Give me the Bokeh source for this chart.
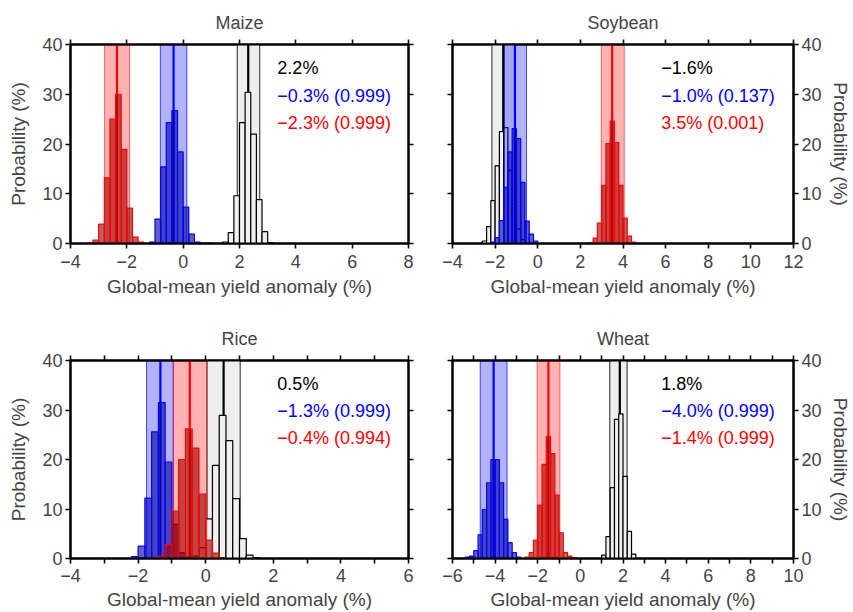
import numpy as np
from bokeh.plotting import figure
from bokeh.models import Range1d, LinearAxis, FixedTicker, Label
from bokeh.layouts import gridplot
from bokeh.embed import file_html
from bokeh.resources import INLINE

FONT = "Liberation Sans"
MINUS = "\u2212"
bin_width = 0.2

# ---------------- data ----------------
crop_names = ["Maize", "Soybean", "Rice", "Wheat"]
maize_xlim = [-4, 8]
soy_xlim = [-4, 12]
rice_xlim = [-4, 6]
wheat_xlim = [-6, 10]

# histogram: lower edge of first 0.2-wide bin, probability (%) per bin
maize_grey_start = 1.4
maize_grey_prob = [0.3, 2.2, 9.6, 24.3, 30.4, 22.0, 8.8, 2.4, 0.2]
maize_blue_start = -1.2
maize_blue_prob = [0.3, 4.9, 15.4, 24.3, 26.7, 18.4, 7.3, 1.9, 0.3, 0.05, 0.1]
maize_red_start = -3.4
maize_red_prob = [0.2, 0.7, 3.9, 13.2, 25.0, 30.0, 18.9, 7.1, 1.3, 0.3]

soy_grey_start = -2.6
soy_grey_prob = [0.5, 3.4, 8.6, 15.6, 22.5, 23.3, 14.7, 8.0, 2.9, 0.8]
soy_blue_start = -2.2
soy_blue_prob = [0.3, 1.2, 4.6, 11.3, 18.4, 23.1, 21.1, 12.3, 4.5, 1.9, 0.5]
soy_red_start = 2.4
soy_red_prob = [0.2, 1.1, 4.1, 11.7, 20.1, 24.6, 20.3, 11.7, 5.1, 1.5, 0.3]

rice_grey_start = -0.4
rice_grey_prob = [0.5, 2.2, 8.0, 18.8, 28.9, 23.8, 12.1, 4.0, 0.7, 0.2]
rice_blue_start = -2.2
rice_blue_prob = [0.4, 2.5, 12.2, 25.6, 31.5, 19.5, 6.9, 1.2, 0.3]
rice_red_start = -1.6
rice_red_prob = [0.1, 0.5, 2.8, 9.6, 20.0, 26.2, 22.3, 13.0, 3.7, 1.1, 0.2]

wheat_grey_start = 1.0
wheat_grey_prob = [0.7, 4.4, 14.3, 28.1, 29.2, 16.6, 5.5, 0.9]
wheat_blue_start = -5.4
wheat_blue_prob = [0.3, 0.5, 1.6, 4.8, 9.9, 15.3, 20.0, 20.0, 15.3, 7.9, 3.2, 1.2, 0.3]
wheat_red_start = -2.6
wheat_red_prob = [0.3, 1.2, 3.7, 10.8, 19.0, 24.7, 21.2, 12.8, 5.2, 1.2, 0.5, 0.2]

# shaded ranges (lower, upper) and mean lines
maize_grey_band = [1.92, 2.72]; maize_grey_mean = 2.31
maize_blue_band = [-0.81, 0.13]; maize_blue_mean = -0.34
maize_red_band = [-2.79, -1.90]; maize_red_mean = -2.35

soy_grey_band = [-2.15, -1.09]; soy_grey_mean = -1.62
soy_blue_band = [-1.56, -0.53]; soy_blue_mean = -1.07
soy_red_band = [2.98, 4.06]; soy_red_mean = 3.49

rice_grey_band = [0.04, 1.02]; rice_grey_mean = 0.53
rice_blue_band = [-1.75, -0.96]; rice_blue_mean = -1.34
rice_red_band = [-0.96, 0.03]; rice_red_mean = -0.47

wheat_grey_band = [1.38, 2.19]; wheat_grey_mean = 1.85
wheat_blue_band = [-4.70, -3.44]; wheat_blue_mean = -4.07
wheat_red_band = [-2.03, -0.96]; wheat_red_mean = -1.50

maize_text = ["2.2%", MINUS + "0.3% (0.999)", MINUS + "2.3% (0.999)"]
soy_text = [MINUS + "1.6%", MINUS + "1.0% (0.137)", "3.5% (0.001)"]
rice_text = ["0.5%", MINUS + "1.3% (0.999)", MINUS + "0.4% (0.994)"]
wheat_text = ["1.8%", MINUS + "4.0% (0.999)", MINUS + "1.4% (0.999)"]

y_ticks = [0, 10, 20, 30, 40]
x_label = "Global-mean yield anomaly (%)"
y_label = "Probability (%)"

# ---------------- styles ----------------
STYLES = {
    "grey": dict(band_fill="#eeeeee", band_alpha=1.0, band_line="#000000", band_line_alpha=0.85,
                 mean="#000000", bar_fill="#f0f0f0", bar_alpha=1.0, bar_line="#000000"),
    "blue": dict(band_fill="#0000ff", band_alpha=0.3, band_line="#0000ff", band_line_alpha=0.7,
                 mean="#0000ff", bar_fill="#00009a", bar_alpha=0.62, bar_line="#0000ff"),
    "red": dict(band_fill="#ff0000", band_alpha=0.3, band_line="#ff0000", band_line_alpha=0.55,
                mean="#ff0000", bar_fill="#9a0000", bar_alpha=0.62, bar_line="#ff0000"),
}
TEXT_COLORS = ["#000000", "#0000ff", "#ff0000"]


def fmt(v):
    return (MINUS + str(abs(v))) if v < 0 else str(v)


def draw_series(p, start, probs, band, mean, st):
    p.quad(left=[band[0]], right=[band[1]], bottom=[0], top=[40],
           fill_color=st["band_fill"], fill_alpha=st["band_alpha"],
           line_color=st["band_line"], line_alpha=st["band_line_alpha"], line_width=1)
    p.segment(x0=[mean], y0=[0], x1=[mean], y1=[40], line_color=st["mean"], line_width=2.2)
    probs = np.array(probs, dtype=float)
    left = start + bin_width * np.arange(len(probs))
    p.quad(left=left, right=left + bin_width, bottom=0, top=probs,
           fill_color=st["bar_fill"], fill_alpha=st["bar_alpha"],
           line_color=st["bar_line"], line_width=1.2)


def style_axis(ax, ticks, labels_on, labeled_step=2):
    ax.ticker = FixedTicker(ticks=ticks)
    ax.axis_line_width = 2
    ax.axis_line_color = "black"
    ax.major_tick_in = 0
    ax.major_tick_out = 5
    ax.major_tick_line_width = 1.6
    ax.minor_tick_line_color = None
    ax.major_label_text_font = FONT
    ax.axis_label_text_font = FONT
    ax.axis_label_text_font_style = "normal"
    ax.axis_label_text_font_size = "19px"
    if labels_on:
        ax.major_label_text_font_size = "18px"
        ax.major_label_overrides = {t: (fmt(t) if (t % labeled_step == 0) else "") for t in ticks}
    else:
        ax.major_label_text_font_size = "0px"
        ax.major_label_text_color = None
        ax.major_label_standoff = 0


def make_panel(name, xlim, xstep, series, texts, right_side, bottom_row, width, height, borders):
    p = figure(width=width, height=height, output_backend="svg", toolbar_location=None,
               x_range=Range1d(xlim[0], xlim[1]), y_range=Range1d(0, 40),
               y_axis_location=("right" if right_side else "left"),
               min_border_left=borders[0], min_border_right=borders[1],
               min_border_top=borders[2], min_border_bottom=borders[3])
    p.grid.visible = False
    p.outline_line_color = "black"
    p.outline_line_width = 2
    p.background_fill_color = "white"
    p.border_fill_color = "white"
    p.title.text = name
    p.title.align = "center"
    p.title.text_font = FONT
    p.title.text_font_size = "18px"
    p.title.text_font_style = "normal"
    p.title.standoff = 14

    xt = list(range(xlim[0], xlim[1] + 1, xstep))

    style_axis(p.xaxis[0], xt, True)
    p.xaxis[0].axis_label = x_label
    p.xaxis[0].major_label_standoff = 5 if bottom_row else 6
    p.xaxis[0].axis_label_standoff = 4 if bottom_row else 5
    style_axis(p.yaxis[0], y_ticks, True)
    p.yaxis[0].axis_label = y_label
    p.yaxis[0].major_label_standoff = 3
    p.yaxis[0].axis_label_standoff = 10 if not right_side else 5

    top_ax = LinearAxis()
    style_axis(top_ax, xt, False)
    p.add_layout(top_ax, "above")
    side_ax = LinearAxis()
    style_axis(side_ax, y_ticks, False)
    p.add_layout(side_ax, "left" if right_side else "right")

    for key in ["grey", "blue", "red"]:
        start, probs, band, mean = series[key]
        draw_series(p, start, probs, band, mean, STYLES[key])

    xt0 = xlim[0] + 0.612 * (xlim[1] - xlim[0])
    for txt, yy, col in zip(texts, [35.2, 29.7, 24.3], TEXT_COLORS):
        p.add_layout(Label(x=xt0, y=yy, text=txt, text_color=col, text_font=FONT,
                           text_font_size="18px", text_baseline="middle", text_align="left"))
    return p


maize = make_panel("Maize", maize_xlim, 2, {
    "grey": (maize_grey_start, maize_grey_prob, maize_grey_band, maize_grey_mean),
    "blue": (maize_blue_start, maize_blue_prob, maize_blue_band, maize_blue_mean),
    "red": (maize_red_start, maize_red_prob, maize_red_band, maize_red_mean)},
    maize_text, False, False, 426, 300, (70, 18, 44, 57))
soy = make_panel("Soybean", soy_xlim, 2, {
    "grey": (soy_grey_start, soy_grey_prob, soy_grey_band, soy_grey_mean),
    "blue": (soy_blue_start, soy_blue_prob, soy_blue_band, soy_blue_mean),
    "red": (soy_red_start, soy_red_prob, soy_red_band, soy_red_mean)},
    soy_text, True, False, 427, 300, (26, 60, 44, 57))
rice = make_panel("Rice", rice_xlim, 1, {
    "grey": (rice_grey_start, rice_grey_prob, rice_grey_band, rice_grey_mean),
    "blue": (rice_blue_start, rice_blue_prob, rice_blue_band, rice_blue_mean),
    "red": (rice_red_start, rice_red_prob, rice_red_band, rice_red_mean)},
    rice_text, False, True, 426, 312, (70, 18, 60, 54))
wheat = make_panel("Wheat", wheat_xlim, 1, {
    "grey": (wheat_grey_start, wheat_grey_prob, wheat_grey_band, wheat_grey_mean),
    "blue": (wheat_blue_start, wheat_blue_prob, wheat_blue_band, wheat_blue_mean),
    "red": (wheat_red_start, wheat_red_prob, wheat_red_band, wheat_red_mean)},
    wheat_text, True, True, 427, 312, (26, 60, 60, 54))

grid = gridplot([[maize, soy], [rice, wheat]], toolbar_location=None)
open("out.html", "w").write(file_html(grid, INLINE))
